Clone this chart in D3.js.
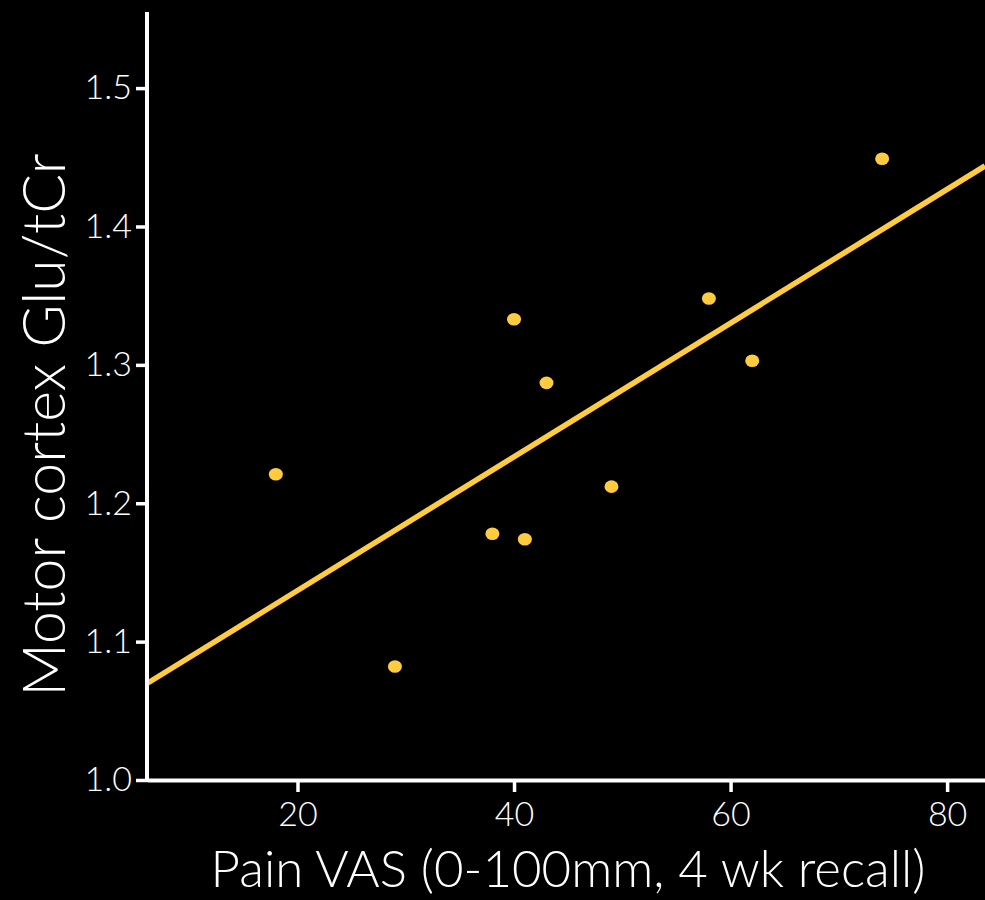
<!DOCTYPE html>
<html>
<head>
<meta charset="utf-8">
<script src="https://cdn.jsdelivr.net/npm/d3@7"></script>
<style>
  html, body { margin: 0; padding: 0; background: #000; }
  svg text { font-family: "Lato", "Open Sans", sans-serif; font-weight: 300; fill: #fff; }
</style>
</head>
<body>
<div id="chart"></div>
<script>
// Pain VAS (mm) and motor cortex Glu/tCr, one entry per subject
const painVAS = [18, 29, 38, 40, 41, 43, 49, 58, 62, 74];
const gluRatio = [1.221, 1.082, 1.178, 1.333, 1.174, 1.287, 1.212, 1.348, 1.303, 1.449];

const xTicks = [20, 40, 60, 80];
const yTicks = [1.0, 1.1, 1.2, 1.3, 1.4, 1.5];

const xTitle = "Pain VAS (0-100mm, 4 wk recall)";
const yTitle = "Motor cortex Glu/tCr";

const width = 985;
const height = 900;
const margin = { top: 12, right: 0, bottom: 120, left: 147 };

const gold = "#ffcb3f";

let svg = d3.select("#chart")
  .append("svg")
  .attr("width", width)
  .attr("height", height)
  .style("background", "#000");

let x = d3.scaleLinear()
  .domain([6.1, 83.5])
  .range([margin.left, width - margin.right]);

let y = d3.scaleLinear()
  .domain([1.0, 1.555])
  .range([height - margin.bottom, margin.top]);

// least squares fit through the points
let mx = d3.mean(painVAS), my = d3.mean(gluRatio);
let sxy = d3.sum(painVAS, (v, i) => (v - mx) * (gluRatio[i] - my));
let sxx = d3.sum(painVAS, v => (v - mx) * (v - mx));
let slope = sxy / sxx;
let intercept = my - slope * mx;

let fitData = x.domain().map(v => [v, intercept + slope * v]);

svg.append("path")
  .datum(fitData)
  .attr("d", d3.line().x(d => x(d[0])).y(d => y(d[1])))
  .style("fill", "none")
  .style("stroke", gold)
  .style("stroke-width", 5.5);

svg.append("g")
  .selectAll("ellipse")
  .data(painVAS.map((v, i) => ({ vas: v, glu: gluRatio[i] })))
  .enter()
  .append("ellipse")
  .attr("cx", d => x(d.vas))
  .attr("cy", d => y(d.glu))
  .attr("rx", 7)
  .attr("ry", 6.3)
  .style("fill", gold);

// axes
let xAxis = svg.append("g")
  .attr("transform", `translate(0, ${height - margin.bottom})`)
  .call(d3.axisBottom(x).tickValues(xTicks).tickSize(12).tickSizeOuter(0).tickPadding(10));

let yAxis = svg.append("g")
  .attr("transform", `translate(${margin.left}, 0)`)
  .call(d3.axisLeft(y).tickValues(yTicks).tickFormat(d3.format(".1f")).tickSize(11).tickSizeOuter(0).tickPadding(4));

[xAxis, yAxis].forEach(function (g) {
  g.select(".domain").style("stroke", "#fff").style("stroke-width", 4);
  g.selectAll(".tick line").style("stroke", "#fff").style("stroke-width", 3.5);
  g.selectAll(".tick text")
    .style("fill", "#fff")
    .style("font-family", "Lato, 'Open Sans', sans-serif")
    .style("font-weight", 300)
    .style("font-size", "34px");
});
yAxis.select(".domain").attr("d", `M0,${height - margin.bottom + 2}V${margin.top}`);

// axis titles
svg.append("text")
  .attr("x", 568)
  .attr("y", 887)
  .style("text-anchor", "middle")
  .style("font-size", "51px")
  .text(xTitle);

svg.append("text")
  .attr("transform", "translate(65, 425) rotate(-90)")
  .style("text-anchor", "middle")
  .style("font-size", "59px")
  .text(yTitle);
</script>
</body>
</html>
